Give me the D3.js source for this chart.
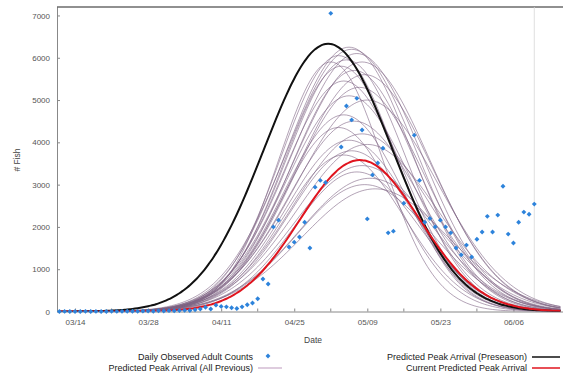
<!DOCTYPE html>
<html>
<head>
<meta charset="utf-8">
<script src="https://cdn.jsdelivr.net/npm/d3@7"></script>
<style>
body { margin: 0; background: #fff; }
text { font-family: "Liberation Sans", Arial, sans-serif; }
</style>
</head>
<body>
<script>
// daily observed adult counts, one per day from obsStart (null = no count)
const obsStart = "03/11";
const obsCounts = [
    0, 2, 0, 1, 0, 3, 0, 2, 1, 0, 4, 2, 3, 5, 6, 4,
    8, 10, 7, 15, 12, 20, 18, 25, 30, 22, 40,
    60, 100, 60, 150, 120, 110, 90, 70, 110, 160, 200, 300,
    770, 650, 2000, 2160, null, 1525, 1640, 1760, 2110, 1500, 2940, 3100, 3050, 7050,
    null, 3890, 4860, 4530, 5040, 4290, 2190, 3230, 3510, 3860, 1860, 1900, null,
    2560, null, 4170, 3100, 2110, 2200, 2000, 2160, 2000, 1860, 1500, 1340, 1570,
    1290, 1710, 1880, 2250, 1880, 2280, 2960, 1830, 1620, 2110, 2350, 2300, 2540
];

// predictions: peak date, peak count, spread in days
const preseason = ["05/01 12:00", 6330, 12.3];
const current = ["05/07 14:00", 3580, 11.5];

const prevPeakDates = [
    "05/02 00:00", "05/03 12:00", "05/05 12:00", "05/06 00:00", "05/07 00:00",
    "05/05 00:00", "05/08 00:00", "05/04 00:00", "05/06 12:00", "05/08 12:00",
    "05/04 12:00", "05/07 12:00", "05/05 12:00", "05/09 00:00",
    "05/04 12:00", "05/06 12:00", "05/03 12:00", "05/08 00:00", "05/05 12:00", "05/09 00:00",
    "05/06 00:00", "05/04 12:00", "05/08 00:00", "05/07 00:00", "05/09 12:00", "05/08 12:00", "05/10 12:00"
];
const prevPeakCounts = [
    5900, 6050, 6250, 6200, 6100, 5950, 5900, 5800, 5700, 5600, 5450, 5300, 5100, 5000,
    4650, 4500, 4350, 4200, 4050, 3950,
    3800, 3700, 3450, 3300, 3150, 3000, 2900
];
const prevSpreads = [
    10, 11, 12, 12.5, 12.5, 11.5, 13, 11, 12, 13, 11.5, 12.5, 12, 13.5,
    11.5, 12.5, 11, 13, 12, 13.5,
    12, 11.5, 13, 12, 13.5, 13, 14
];

const xDomain = ["03/10 13:00", "06/15 12:00"];
const xTickLabels = ["03/14", "03/28", "04/11", "04/25", "05/09", "05/23", "06/06"];
const yTicks = [0, 1000, 2000, 3000, 4000, 5000, 6000, 7000];

var width = 563, height = 377;
var plotLeft = 57, plotTop = 7, plotRight = 563, plotBottom = 311.5;

var parseDay = d3.timeParse("%m/%d");
var parseTime = d3.timeParse("%m/%d %H:%M");

var x = d3.scaleTime()
    .domain(xDomain.map(parseTime))
    .range([plotLeft, plotRight]);

var y = d3.scaleLinear()
    .domain([0, 7200])
    .range([plotBottom, plotTop]);

var svg = d3.select("body")
    .append("svg")
    .attr("width", width)
    .attr("height", height);

svg.append("clipPath")
    .attr("id", "plot-clip")
    .append("rect")
    .attr("x", plotLeft)
    .attr("y", plotTop)
    .attr("width", plotRight - plotLeft)
    .attr("height", plotBottom - plotTop);

/* ------- AXES -------*/
var majorTicks = xTickLabels.map(parseDay);
var minorTicks = majorTicks.map(function(d) { return d3.timeDay.offset(d, 7); });

var xAxis = svg.append("g")
    .attr("transform", "translate(0," + plotBottom + ")")
    .call(d3.axisBottom(x)
        .tickValues(majorTicks)
        .tickFormat(d3.timeFormat("%m/%d"))
        .tickSizeInner(-3)
        .tickSizeOuter(0)
        .tickPadding(8));

xAxis.selectAll(".minor")
    .data(minorTicks)
    .enter()
    .append("line")
    .attr("x1", function(d) { return x(d); })
    .attr("x2", function(d) { return x(d); })
    .attr("y1", 0)
    .attr("y2", -3)
    .attr("stroke", "#888");

var yAxis = svg.append("g")
    .attr("transform", "translate(" + plotLeft + ",0)")
    .call(d3.axisLeft(y)
        .tickValues(yTicks)
        .tickFormat(d3.format("d"))
        .tickSizeInner(-3)
        .tickSizeOuter(0)
        .tickPadding(7));

svg.selectAll(".domain").attr("stroke", "#888");
svg.selectAll(".tick line").attr("stroke", "#888");
svg.selectAll(".tick text")
    .attr("fill", "#555")
    .style("font-size", "8px");

svg.append("line")
    .attr("x1", plotLeft)
    .attr("x2", plotRight)
    .attr("y1", plotTop)
    .attr("y2", plotTop)
    .attr("stroke", "#222")
    .attr("stroke-width", 1.2);

// last observed day
var obsDay0 = parseDay(obsStart);
var lastDay = d3.timeDay.offset(obsDay0, obsCounts.length - 1);
svg.append("line")
    .attr("x1", x(lastDay))
    .attr("x2", x(lastDay))
    .attr("y1", plotTop)
    .attr("y2", plotBottom)
    .attr("stroke", "#d8d8d8")
    .attr("stroke-width", 0.8);

svg.append("text")
    .attr("x", 313)
    .attr("y", 343)
    .attr("text-anchor", "middle")
    .attr("fill", "#444")
    .style("font-size", "8.5px")
    .text("Date");

svg.append("text")
    .attr("transform", "translate(20,160) rotate(-90)")
    .attr("text-anchor", "middle")
    .attr("fill", "#444")
    .style("font-size", "8.5px")
    .text("# Fish");

/* ------- RUN CURVES -------*/
function runCurve(peakDate, peak, spread) {
    var t0 = parseTime(peakDate);
    var times = d3.timeHour.every(12).range(x.domain()[0], x.domain()[1]);
    return times.map(function(t) {
        var z = (t - t0) / 864e5 / spread;
        return {date: t, value: peak * Math.exp(-0.5 * z * z)};
    });
}

var line = d3.line()
    .x(function(d) { return x(d.date); })
    .y(function(d) { return y(d.value); })
    .curve(d3.curveMonotoneX);

var curves = svg.append("g")
    .attr("clip-path", "url(#plot-clip)");

curves.selectAll(".prev")
    .data(prevPeakDates.map(function(d, i) {
        return runCurve(d, prevPeakCounts[i], prevSpreads[i]);
    }))
    .enter()
    .append("path")
    .attr("class", "prev")
    .attr("d", line)
    .attr("fill", "none")
    .attr("stroke", "#7e6383")
    .attr("stroke-opacity", 0.7)
    .attr("stroke-width", 0.85);

curves.append("path")
    .attr("d", line(runCurve(preseason[0], preseason[1], preseason[2])))
    .attr("fill", "none")
    .attr("stroke", "#111")
    .attr("stroke-width", 2);

curves.append("path")
    .attr("d", line(runCurve(current[0], current[1], current[2])))
    .attr("fill", "none")
    .attr("stroke", "#e0141e")
    .attr("stroke-width", 2);

/* ------- OBSERVED POINTS -------*/
var obs = obsCounts.map(function(v, i) {
    return {date: d3.timeDay.offset(obsDay0, i), value: v};
}).filter(function(d) { return d.value != null; });

var diamond = d3.symbol().type(d3.symbolSquare).size(12);

svg.append("g")
    .selectAll("path")
    .data(obs)
    .enter()
    .append("path")
    .attr("d", diamond)
    .attr("transform", function(d) {
        return "translate(" + x(d.date) + "," + y(d.value) + ") rotate(45)";
    })
    .attr("fill", "#2d83db");

/* ------- LEGEND -------*/
var legend = svg.append("g")
    .style("font-size", "9px")
    .attr("fill", "#222");

legend.append("text")
    .attr("x", 253).attr("y", 360)
    .attr("text-anchor", "end")
    .text("Daily Observed Adult Counts");
legend.append("path")
    .attr("d", diamond)
    .attr("transform", "translate(268,356) rotate(45)")
    .attr("fill", "#2d83db");

legend.append("text")
    .attr("x", 253).attr("y", 371)
    .attr("text-anchor", "end")
    .text("Predicted Peak Arrival (All Previous)");
legend.append("line")
    .attr("x1", 258).attr("x2", 282)
    .attr("y1", 368).attr("y2", 368)
    .attr("stroke", "#c8aac8")
    .attr("stroke-width", 1.2);

legend.append("text")
    .attr("x", 527).attr("y", 360)
    .attr("text-anchor", "end")
    .text("Predicted Peak Arrival (Preseason)");
legend.append("line")
    .attr("x1", 532).attr("x2", 560)
    .attr("y1", 357).attr("y2", 357)
    .attr("stroke", "#111")
    .attr("stroke-width", 1.5);

legend.append("text")
    .attr("x", 527).attr("y", 371)
    .attr("text-anchor", "end")
    .text("Current Predicted Peak Arrival");
legend.append("line")
    .attr("x1", 532).attr("x2", 560)
    .attr("y1", 368).attr("y2", 368)
    .attr("stroke", "#e0141e")
    .attr("stroke-width", 1.5);
</script>
</body>
</html>
